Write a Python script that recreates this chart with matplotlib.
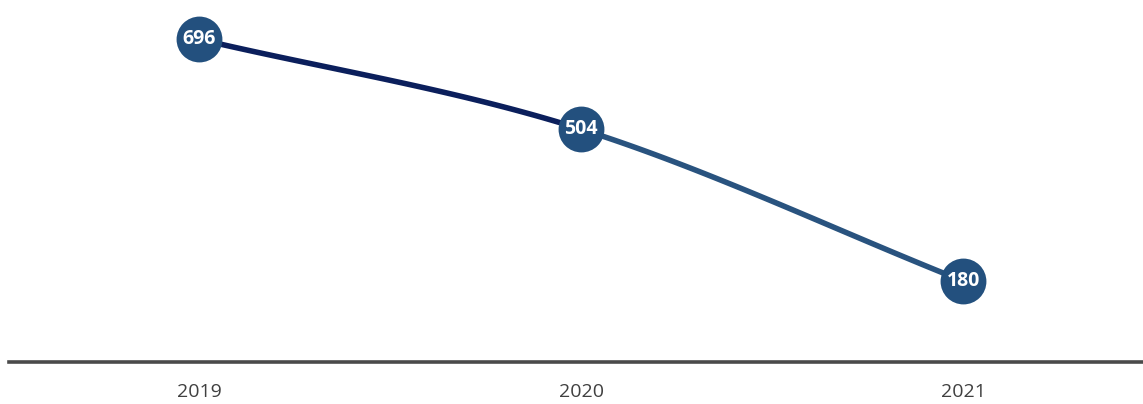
import numpy as np
import matplotlib.pyplot as plt

years = ["2019", "2020", "2021"]
values = [696, 504, 180]

seg_colors = ["#0b1f5c", "#29537f"]
marker_color = "#23507e"


def bezier_segments(x, y):
    # smoothed line, Catmull-Rom style tangents, one cubic per segment
    x = np.asarray(x, float)
    y = np.asarray(y, float)
    n = len(x)
    tx = np.zeros(n)
    ty = np.zeros(n)
    for i in range(n):
        a = max(i - 1, 0)
        b = min(i + 1, n - 1)
        tx[i] = (x[b] - x[a]) / (b - a) if b != a else 0
        ty[i] = (y[b] - y[a]) / (b - a) if b != a else 0
    t = np.linspace(0, 1, 60)
    segs = []
    for i in range(n - 1):
        p0 = np.array([x[i], y[i]])
        p3 = np.array([x[i + 1], y[i + 1]])
        p1 = p0 + np.array([tx[i], ty[i]]) / 3
        p2 = p3 - np.array([tx[i + 1], ty[i + 1]]) / 3
        pts = ((1 - t) ** 3)[:, None] * p0 + (3 * (1 - t) ** 2 * t)[:, None] * p1 \
            + (3 * (1 - t) * t ** 2)[:, None] * p2 + (t ** 3)[:, None] * p3
        segs.append(pts)
    return segs


fig = plt.figure(figsize=(11.43, 4.04), dpi=100)
ax = fig.add_axes([9 / 1143, 42 / 404, 1 - 9 / 1143, 362 / 404])

xs = np.arange(len(years))
for pts, c in zip(bezier_segments(xs, values), seg_colors):
    ax.plot(pts[:, 0], pts[:, 1], color=c, lw=4.0, solid_capstyle="round", zorder=2)

ax.plot(xs, values, "o", ms=33, color=marker_color, mew=0, zorder=3)
for x, v in zip(xs, values):
    ax.text(x, v, str(v), ha="center", va="center", color="white",
            fontsize=14, fontweight="bold", family="Open Sans", zorder=4)

ax.set_xlim(-0.497, 2.47)
ax.set_ylim(7.5, 779.5)
for s in ["top", "right", "left"]:
    ax.spines[s].set_visible(False)
ax.spines["bottom"].set_color("#4a4a4a")
ax.spines["bottom"].set_linewidth(2.6)
ax.set_yticks([])
ax.set_xticks(xs)
ax.set_xticklabels(years, fontsize=14, color="#404040", family="Open Sans")
ax.tick_params(axis="x", length=0, pad=15)

fig.savefig("out.png", dpi=100)
